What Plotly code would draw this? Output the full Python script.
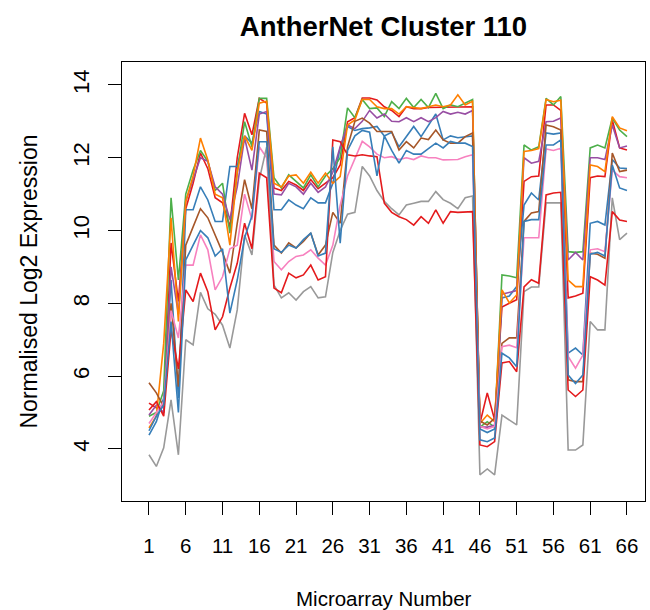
import plotly.graph_objects as go

x_vals = list(range(1, 67))
x_ticks = [1, 6, 11, 16, 21, 26, 31, 36, 41, 46, 51, 56, 61, 66]
y_ticks = [4, 6, 8, 10, 12, 14]

red_a = [5.26, 5.12, 5.0, 9.66, 8.05, 10.6, 11.3, 12.13, 11.7, 10.9, 10.76, 10.1, 12.0, 13.22, 12.63, 13.63, 13.5,
         11.17, 11.1, 11.35, 11.25, 11.1, 11.4, 11.15, 11.3, 11.45, 11.8,
         12.99, 13.1, 13.64, 13.64, 13.59, 13.4, 13.3, 13.13, 13.4, 13.35, 13.35, 13.38, 13.38, 13.38, 13.4, 13.38, 13.4, 13.4,
         4.7, 5.54, 4.8, 7.9, 8.0, 8.1,
         11.35, 11.48, 11.5, 13.45, 13.45, 13.3,
         8.15, 8.2, 8.28,
         11.45, 11.5, 11.48, 13.04, 12.27, 12.21]
blue_a = [4.38, 4.75, 5.4, 8.64, 5.4, 10.57, 10.57, 11.2, 10.84, 10.25, 10.25, 11.76, 11.76, 12.6, 12.4, 13.27, 13.2,
          10.57, 10.57, 10.84, 10.7, 10.6, 10.9, 10.76, 10.76, 11.3, 12.27,
          12.86, 12.75, 12.8, 12.82, 12.86, 12.6, 12.7, 12.3, 12.58, 12.86, 12.58, 12.9, 13.2, 12.49, 12.6, 12.55, 12.58, 12.6,
          4.55, 4.45, 4.55, 8.15, 8.2, 8.46,
          10.7, 11.03, 10.84, 12.68, 12.65, 12.68,
          6.63, 6.77, 6.58,
          10.2, 10.25, 10.15, 11.95, 11.72, 11.7]
green = [4.9, 5.0, 5.6, 10.9, 8.64, 11.0, 11.66, 12.2, 11.9, 11.1, 11.3, 9.93, 11.6, 12.99, 12.3, 13.63, 13.63,
         11.45, 11.17, 11.53, 11.35, 11.17, 11.53, 11.2, 11.5, 11.7, 12.0,
         13.37, 13.1, 13.6, 13.35, 13.37, 13.13, 13.54, 13.35, 13.63, 13.38, 13.6, 13.38, 13.77, 13.35, 13.45, 13.4, 13.5, 13.6,
         4.6, 4.75, 4.6, 8.78, 8.75, 8.7,
         12.35, 12.21, 12.3, 13.63, 13.45, 13.68,
         9.42, 9.4, 9.42,
         12.27, 12.35, 12.27, 13.09, 12.76, 12.58]
purple = [4.93, 5.2, 5.0, 9.0, 7.7, 10.8, 11.4, 12.0, 11.9, 11.2, 11.0, 10.3, 11.2, 12.55, 11.66, 13.2, 13.27,
          11.0, 10.98, 11.3, 11.2, 11.0, 11.3, 11.05, 11.2, 11.6, 12.3,
          12.9, 12.8, 13.0, 13.3, 13.09, 13.2, 13.0, 12.99, 13.1, 12.99, 13.1, 12.99, 13.1, 13.27, 13.2, 13.25, 13.2, 13.3,
          4.6, 4.6, 4.65, 8.25, 8.3, 8.35,
          12.0, 11.85, 11.9, 12.99, 13.0, 13.09,
          9.19, 9.4, 9.19,
          12.0, 12.0, 11.95, 12.9, 12.27, 12.32]
orange = [4.58, 4.9, 6.9, 10.35, 7.5, 10.8, 11.5, 12.54, 11.94, 11.0, 10.9, 9.6, 11.6, 12.6, 12.2, 13.5, 13.55,
          11.3, 11.2, 11.5, 11.53, 11.3, 11.6, 11.3, 11.58, 11.3, 11.48,
          12.9, 13.04, 13.6, 13.6, 13.4, 13.35, 13.35, 13.2, 13.4, 13.38, 13.35, 13.4, 13.45, 13.4, 13.45, 13.73, 13.45, 13.55,
          4.7, 4.93, 4.75, 8.37, 8.01, 8.23,
          12.17, 12.2, 12.25, 13.6, 13.54, 13.58,
          8.64, 8.46, 8.46,
          11.8, 11.76, 11.62, 13.13, 12.82, 12.74]
brown = [5.82, 5.54, 5.16, 8.0, 5.71, 9.6, 10.1, 10.6, 10.35, 9.9, 9.4, 8.83, 10.2, 11.4, 10.6, 12.76, 12.72,
         9.6, 9.38, 9.66, 9.52, 9.7, 9.93, 9.33, 9.6, 10.5, 10.2,
         12.3, 13.0, 13.09, 12.95, 12.72, 12.72, 12.72, 12.21, 12.44, 12.27, 12.54, 12.5, 12.76, 12.49, 12.4, 12.4, 12.58, 12.68,
         4.77, 4.66, 4.84, 6.9, 7.05, 7.05,
         10.25, 10.48, 10.52, 12.9, 12.85, 12.76,
         5.9, 5.85, 5.85,
         9.38, 9.35, 9.24, 12.13, 11.62, 11.66]
pink = [4.7, 5.0, 5.3, 7.8, 7.05, 9.05, 9.05, 9.88, 9.47, 8.37, 8.73, 9.5, 9.6, 11.0, 10.3, 12.3, 12.0,
        9.15, 8.92, 9.15, 9.29, 9.33, 9.47, 9.24, 9.05, 9.6, 10.7,
        11.5, 12.0, 12.45, 12.3, 12.1, 12.0, 12.03, 11.95, 12.0, 11.95, 12.05, 12.0, 12.0, 11.94, 11.94, 11.95, 12.03, 12.08,
        4.62, 4.55, 4.62, 6.81, 6.85, 6.78,
        9.8, 9.8, 9.8, 12.24, 12.2, 12.26,
        6.54, 6.22, 6.58,
        9.47, 9.5, 9.42, 11.66, 11.48, 11.45]
gray = [3.84, 3.52, 4.03, 5.35, 3.84, 7.0, 6.86, 8.3, 7.85, 7.7, 7.4, 6.77, 7.82, 9.88, 9.33, 11.4, 12.3,
        8.5, 8.15, 8.29, 8.09, 8.32, 8.46, 8.15, 8.18, 9.4, 10.0,
        10.45, 10.5, 11.76, 11.5, 11.1, 10.8, 10.6, 10.43, 10.7, 10.75, 10.8, 10.8, 11.07, 10.85, 10.75, 10.6, 10.9, 10.95,
        3.29, 3.45, 3.29, 4.93, 4.8, 4.66,
        8.32, 8.45, 8.45, 10.76, 10.76, 10.76,
        3.97, 3.97, 4.11,
        7.5, 7.27, 7.27, 10.9, 9.75, 9.93]
red_b = [5.07, 5.3, 4.9, 7.27, 6.2, 8.37, 8.05, 8.83, 8.32, 7.27, 7.63, 8.42, 9.1, 10.2, 9.5, 11.58, 11.45,
         8.42, 8.29, 8.83, 8.7, 8.78, 9.05, 8.64, 8.73, 12.49, 12.44,
         12.08, 12.05, 12.08, 12.05, 12.03, 10.75, 10.5, 10.38, 10.3, 10.15, 10.38, 10.2, 10.57, 10.2, 10.52, 10.5, 10.52, 10.52,
         4.11, 4.06, 4.2, 6.36, 6.4, 6.12,
         8.45, 8.65, 8.55, 10.98, 11.03, 11.05,
         5.62, 5.44, 5.62,
         8.73, 8.64, 8.5, 10.52, 10.29, 10.25]
blue_b = [4.5, 4.9, 5.2, 7.5, 5.0, 9.19, 9.6, 10.0, 9.8, 9.3, 9.5, 7.73, 8.64, 9.8, 10.4, 12.44, 12.44,
          9.5, 9.4, 9.6, 9.52, 9.75, 9.93, 9.3, 9.38, 12.3, 9.65,
          12.2, 12.6, 12.75, 12.7, 11.5, 12.6, 12.2, 11.85, 12.2, 12.1, 12.1, 12.25, 12.4, 12.27, 12.45, 12.4, 12.4, 12.31,
          4.25, 4.2, 4.3, 6.63, 6.5, 6.26,
          10.25, 10.3, 10.3, 12.35, 12.35, 12.49,
          6.03, 5.8, 6.03,
          9.35, 9.4, 9.3, 11.8, 11.17, 11.1]

series = [
    ("red_a", red_a, "#E41A1C"),
    ("blue_a", blue_a, "#377EB8"),
    ("green", green, "#4DAF4A"),
    ("purple", purple, "#984EA3"),
    ("orange", orange, "#FF7F00"),
    ("brown", brown, "#A65628"),
    ("pink", pink, "#F781BF"),
    ("gray", gray, "#999999"),
    ("red_b", red_b, "#E41A1C"),
    ("blue_b", blue_b, "#377EB8"),
]

FONT = "Liberation Sans, Arial, sans-serif"

fig = go.Figure()
for name, vals, col in series:
    fig.add_trace(go.Scatter(x=x_vals, y=vals, mode="lines", name=name,
                             line=dict(color=col, width=1.6), showlegend=False))

axis_common = dict(showgrid=False, zeroline=False, showline=True, mirror=True,
                   linecolor="black", linewidth=1.3, ticks="outside", ticklen=13,
                   tickwidth=1.3, tickcolor="black")

fig.update_layout(
    width=650, height=610,
    margin=dict(l=122, r=5, t=62, b=109),
    paper_bgcolor="white", plot_bgcolor="white",
    font=dict(family=FONT, color="black"),
    title=dict(text="<b>AntherNet Cluster 110</b>", x=0.59, xanchor="center",
               y=1 - 26 / 610, yanchor="middle", yref="container",
               font=dict(family=FONT, size=27.5, color="black")),
    xaxis=dict(range=[-2.67, 68.45], tickmode="array", tickvals=x_ticks,
               ticktext=[str(t) for t in x_ticks], ticklabelstandoff=13,
               tickfont=dict(family=FONT, size=20.5, color="black"), **axis_common),
    yaxis=dict(range=[2.57, 14.63], tickmode="array", tickvals=y_ticks,
               ticktext=[str(t) for t in y_ticks], tickangle=-90, ticklabelstandoff=10,
               tickfont=dict(family=FONT, size=22, color="black"), **axis_common),
    annotations=[
        dict(text="Microarray Number", xref="paper", yref="paper", x=0.5, y=0,
             xanchor="center", yanchor="middle", yshift=-97, showarrow=False,
             font=dict(family=FONT, size=20.5, color="black")),
        dict(text="Normalised Log2 Expression", xref="paper", yref="paper", x=0, y=0.5,
             xanchor="center", yanchor="middle", xshift=-94, textangle=-90, showarrow=False,
             font=dict(family=FONT, size=23, color="black")),
    ],
)

fig.write_html("out.html")
